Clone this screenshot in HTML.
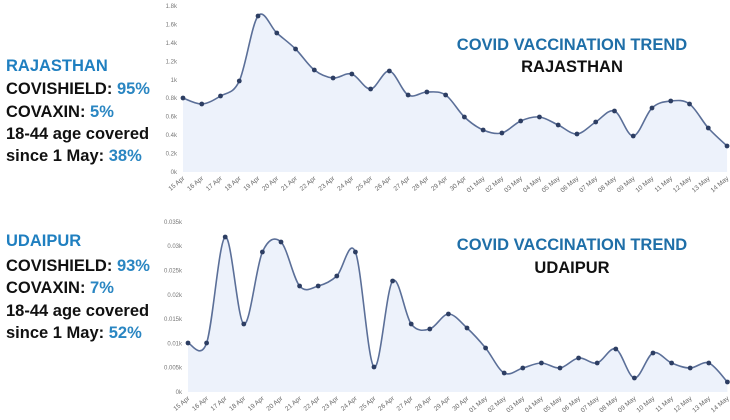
<!DOCTYPE html>
<html><head><meta charset="utf-8"><style>
html,body{margin:0;padding:0;background:#fff;width:730px;height:420px;overflow:hidden;font-family:"Liberation Sans",sans-serif}
.t{position:absolute;left:6px;font-weight:bold;font-size:16.5px;color:#111;white-space:nowrap}
.b{color:#2a86c2}
.h{position:absolute;font-weight:bold;font-size:16.5px;text-align:center;width:260px;left:442px;white-space:nowrap}
svg{position:absolute;left:0;top:0}
</style></head><body>
<svg id="s" width="730" height="420"></svg>
<div class="t b" style="top:57px;color:#1f7fc0">RAJASTHAN</div>
<div class="t" style="top:80px">COVISHIELD: <span class="b">95%</span></div>
<div class="t" style="top:103px">COVAXIN: <span class="b">5%</span></div>
<div class="t" style="top:125px">18-44 age covered</div>
<div class="t" style="top:147px">since 1 May: <span class="b">38%</span></div>
<div class="t b" style="top:232px;color:#1f7fc0">UDAIPUR</div>
<div class="t" style="top:257px">COVISHIELD: <span class="b">93%</span></div>
<div class="t" style="top:279px">COVAXIN: <span class="b">7%</span></div>
<div class="t" style="top:302px">18-44 age covered</div>
<div class="t" style="top:324px">since 1 May: <span class="b">52%</span></div>
<div class="h" style="top:36px;color:#1f6fa8">COVID VACCINATION TREND</div>
<div class="h" style="top:58px;color:#111">RAJASTHAN</div>
<div class="h" style="top:236px;color:#1f6fa8">COVID VACCINATION TREND</div>
<div class="h" style="top:259px;color:#111">UDAIPUR</div>
<script>
var labels=["15 Apr","16 Apr","17 Apr","18 Apr","19 Apr","20 Apr","21 Apr","22 Apr","23 Apr","24 Apr","25 Apr","26 Apr","27 Apr","28 Apr","29 Apr","30 Apr","01 May","02 May","03 May","04 May","05 May","06 May","07 May","08 May","09 May","10 May","11 May","12 May","13 May","14 May"];
var A=[98,104,96,81,16,33,49,70,78,74,89,71,95,92,95,117,130,133,121,117,125,134,122,111,136,108,101,104,128,146];
var B=[343,343,237,324,252,242,286,286,276,252,367,281,324,329,314,328,348,373,368,363,368,358,363,349,378,353,363,368,363,382];
var s=document.getElementById('s'),h='';
function path(ys,x0,dx){var p=[];for(var i=0;i<ys.length;i++)p.push([x0+i*dx,ys[i]]);
var d='M'+p[0][0]+','+p[0][1];
for(var i=0;i<p.length-1;i++){var a=p[i-1]||p[i],b=p[i],c=p[i+1],e=p[i+2]||c;
d+=' C'+(b[0]+(c[0]-a[0])/6)+','+(b[1]+(c[1]-a[1])/6)+' '+(c[0]-(e[0]-b[0])/6)+','+(c[1]-(e[1]-b[1])/6)+' '+c[0]+','+c[1];}
return [d,p];}
function chart(ys,x0,dx,base,ticks,t0,tstep){
var r=path(ys,x0,dx),x1=x0+dx*(ys.length-1);
h+='<path d="'+r[0]+' L'+x1+','+base+' L'+x0+','+base+' Z" fill="#edf2fb"/>';
h+='<path d="'+r[0]+'" fill="none" stroke="#5b6f98" stroke-width="1.6"/>';
r[1].forEach(function(q){h+='<circle cx="'+q[0]+'" cy="'+q[1]+'" r="2.4" fill="#2d3e63"/>';});
ticks.forEach(function(t,i){h+='<text x="'+(x0-6)+'" y="'+(base-i*tstep+2)+'" font-size="6" fill="#777" text-anchor="end">'+t+'</text>';});
labels.forEach(function(l,i){var x=x0+i*dx;h+='<text transform="translate('+(x+2)+','+(base+7)+') rotate(-40)" font-size="6.5" fill="#666" text-anchor="end">'+l+'</text>';});
}
chart(A,183,18.76,172,["0k","0.2k","0.4k","0.6k","0.8k","1k","1.2k","1.4k","1.6k","1.8k"],0,18.45);
chart(B,188,18.6,392,["0k","0.005k","0.01k","0.015k","0.02k","0.025k","0.03k","0.035k"],0,24.3);
s.innerHTML=h;
</script>
</body></html>
